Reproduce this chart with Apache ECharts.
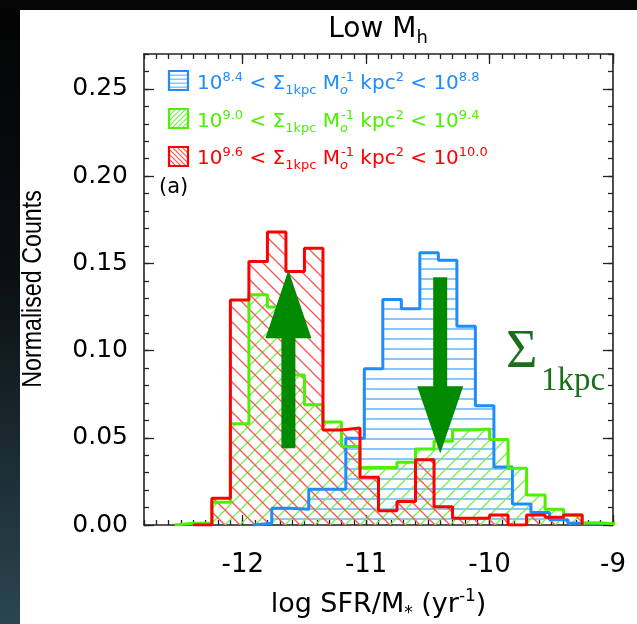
<!DOCTYPE html>
<html><head><meta charset="utf-8">
<script src="https://cdn.jsdelivr.net/npm/echarts@6/dist/echarts.min.js"></script>
<style>html,body{margin:0;padding:0;background:#fff}#c{width:637px;height:624px}</style>
</head><body><div id="c"></div>
<script>
// ---- data ----
const blueEdges = [-11.915,-11.765,-11.615,-11.465,-11.315,-11.165,-11.015,-10.865,-10.715,-10.565,-10.415,-10.265,-10.115,-9.965,-9.815,-9.665,-9.515,-9.365,-9.215,-9.065];
const blueVals  = [0.001,0.0096,0.009,0.0205,0.0205,0.0498,0.0895,0.1293,0.124,0.1561,0.1517,0.114,0.0684,0.0332,0.0121,0.0071,0.003,0.001,0.001];

const greenEdges = [-12.55,-12.40,-12.25,-12.10,-11.95,-11.80,-11.65,-11.50,-11.35,-11.20,-11.05,-10.90,-10.75,-10.60,-10.45,-10.30,-10.15,-10.00,-9.85,-9.70,-9.55,-9.40,-9.25,-9.10,-8.95];
const greenVals  = [0.001,0.001,0.013,0.058,0.132,0.125,0.086,0.069,0.059,0.045,0.033,0.033,0.036,0.0435,0.048,0.0545,0.055,0.049,0.0325,0.0172,0.009,0.0057,0.0012,0.0006];

const redEdges = [-12.40,-12.25,-12.10,-11.95,-11.80,-11.65,-11.50,-11.35,-11.20,-11.05,-10.90,-10.75,-10.60,-10.45,-10.30,-10.15,-10.00,-9.85,-9.70,-9.55,-9.40,-9.25];
const redVals  = [0,0.0153,0.129,0.151,0.168,0.1453,0.1586,0.0545,0.0556,0.0274,0.0082,0.0134,0.0374,0.0105,0.0038,0.0038,0.0057,0,0.0057,0.0044,0.0057];

const xMajor = [-12,-11,-10,-9];
const yMajor = [0,0.05,0.10,0.15,0.20,0.25];
const xRange = [-12.8,-9];
const yRange = [0,0.27];

// annotation arrows (data coords)
const upArrow   = {x:-11.63, tail:0.044, neck:0.107, tip:0.146};
const downArrow = {x:-10.40, tail:0.142, neck:0.0795, tip:0.041};

// ---- helpers ----
const xMinor = []; for (let i = -128; i <= -90; i++) xMinor.push(i/10);
const yMinor = []; for (let i = 0; i <= 27; i++) yMinor.push(i/100);

function stepData(edges, vals){
  const d = [[edges[0],0]];
  for (let i=0;i<vals.length;i++) d.push([edges[i], vals[i]]);
  d.push([edges[vals.length], 0]);
  return d;
}
function hatch(kind, color, s, lw){
  const c = document.createElement('canvas');
  const g = c.getContext('2d');
  if (kind === 'h'){
    c.width = 4; c.height = s;
    g.fillStyle = color; g.fillRect(0, s - lw, 4, lw);
  } else {
    c.width = s; c.height = s;
    g.strokeStyle = color; g.lineWidth = lw; g.beginPath();
    if (kind === '/'){
      for (let k=0;k<3;k++){ g.moveTo(-1, k*s+1); g.lineTo(k*s+1, -1); }
    } else {
      for (let k=-1;k<2;k++){ g.moveTo(-1, k*s-1); g.lineTo(s+1, k*s+s+1); }
    }
    g.stroke();
  }
  return {image: c, repeat: 'repeat'};
}
const F = "'DejaVu Sans', sans-serif";
const BLUE = '#1e8cff', GREEN = '#4cf000', RED = '#ff0000';
const pBlue = hatch('h', '#8cc6ff', 10, 2);
const pGreen = hatch('/', '#74f048', 15, 1.3);
const pRed = hatch('\\', '#ff5050', 15, 1.3);
const lBlue = hatch('h', '#8cc6ff', 4, 1.5);
const lGreen = hatch('/', '#74f048', 5, 1.2);
const lRed = hatch('\\', '#ff5050', 5, 1.2);

function legendText(lo, hi){
  return '{m|10}{sup|'+lo+'}{m| < Σ}{sub|1kpc}{m| M}{subo|o}{sup|-1}{m| kpc}{sup|2}{m| < 10}{sup|'+hi+'}';
}
function legendRich(color){
  return {
    m:{fontSize:20,fontFamily:F,color:color,lineHeight:26,fontWeight:'normal'},
    sup:{fontSize:13,fontFamily:F,color:color,lineHeight:13,verticalAlign:'top',fontWeight:'normal'},
    sub:{fontSize:13,fontFamily:F,color:color,lineHeight:13,verticalAlign:'bottom',fontWeight:'normal'},
    subo:{fontSize:13,fontFamily:F,color:color,lineHeight:13,verticalAlign:'bottom',fontStyle:'italic',width:1,fontWeight:'normal'}
  };
}

const axisCol = '#222';
function xAx(pos, major){
  return {type:'value', min:xRange[0], max:xRange[1], position:pos, gridIndex:0,
    axisLine:{show:major, onZero:false, lineStyle:{color:axisCol, width:1.6}},
    axisTick:{show:true, inside:true, length: major?10:5, customValues: major?xMajor:xMinor, lineStyle:{color:axisCol,width:1.3}},
    axisLabel:{show: major && pos==='bottom', customValues:xMajor, fontSize:26, fontFamily:F, color:'#000', margin:27,
      formatter: v => String(Math.round(v))},
    splitLine:{show:false}};
}
function yAx(pos, major){
  return {type:'value', min:yRange[0], max:yRange[1], position:pos, gridIndex:0,
    axisLine:{show:major, onZero:false, lineStyle:{color:axisCol, width:1.6}},
    axisTick:{show:true, inside:true, length: major?10:5, customValues: major?yMajor:yMinor, lineStyle:{color:axisCol,width:1.3}},
    axisLabel:{show: major && pos==='left', customValues:yMajor, fontSize:25, fontFamily:F, color:'#000', margin:16,
      formatter: v => v.toFixed(2)},
    splitLine:{show:false}};
}

const xAxes = [xAx('bottom',true), xAx('bottom',false), xAx('top',true), xAx('top',false)];
xAxes[0].name = '{m|log SFR/M}{sub|*}{m| (yr}{sup|-1}{m|)}';
xAxes[0].nameLocation = 'middle';
xAxes[0].nameGap = 63;
xAxes[0].nameTextStyle = {rich:{
  m:{fontSize:27,fontFamily:F,color:'#000',lineHeight:34},
  sub:{fontSize:17,fontFamily:F,color:'#000',lineHeight:17,verticalAlign:'bottom'},
  sup:{fontSize:17,fontFamily:F,color:'#000',lineHeight:17,verticalAlign:'top'}}};
const yAxes = [yAx('left',true), yAx('left',false), yAx('right',true), yAx('right',false)];

const chart = echarts.init(document.getElementById('c'), null, {renderer:'canvas'});
const option = {
  animation:false,
  backgroundColor:'#ffffff',
  grid:{left:144, right:24, top:54, bottom:99, containLabel:false, outerBoundsMode:'none'},
  xAxis: xAxes,
  yAxis: yAxes,
  title:[
    {text:'{a|Low M}{b|h}', left:378, top:13, textAlign:'center', padding:0,
     textStyle:{rich:{a:{fontSize:28,fontFamily:F,color:'#000',lineHeight:34,fontWeight:'normal'},
                      b:{fontSize:18,fontFamily:F,color:'#000',lineHeight:18,verticalAlign:'bottom',fontWeight:'normal'}}}},
    {text:legendText('8.4','8.8'), left:197, top:71, padding:0, textStyle:{rich:legendRich(BLUE)}},
    {text:legendText('9.0','9.4'), left:197, top:109, padding:0, textStyle:{rich:legendRich(GREEN)}},
    {text:legendText('9.6','10.0'), left:197, top:146, padding:0, textStyle:{rich:legendRich(RED)}},
    {text:'(a)', left:159, top:177, padding:0, textStyle:{fontSize:21,fontFamily:F,color:'#000',fontWeight:'normal'}},
    {text:'Σ', left:506, top:326, padding:0, textStyle:{fontSize:54,fontFamily:"'Liberation Serif', serif",color:'#1b6e1b',fontWeight:'normal'}},
    {text:'1kpc', left:541, top:365, padding:0, textStyle:{fontSize:33,fontFamily:"'Liberation Serif', serif",color:'#1b6e1b',fontWeight:'normal'}}
  ],
  series:[
    {type:'line', name:'blue', step:'end', data:stepData(blueEdges,blueVals), symbol:'none', silent:true,
     lineStyle:{color:BLUE,width:3}, itemStyle:{color:BLUE}, areaStyle:{color:pBlue, opacity:1}},
    {type:'line', name:'green', step:'end', data:stepData(greenEdges,greenVals), symbol:'none', silent:true,
     lineStyle:{color:GREEN,width:3}, itemStyle:{color:GREEN}, areaStyle:{color:pGreen, opacity:1}},
    {type:'line', name:'red', step:'end', data:stepData(redEdges,redVals), symbol:'none', silent:true,
     lineStyle:{color:RED,width:3}, itemStyle:{color:RED}, areaStyle:{color:pRed, opacity:1}}
  ]
};
chart.setOption(option);

function arrow(a){
  const P = v => chart.convertToPixel({xAxisIndex:0,yAxisIndex:0}, [a.x, v]);
  const t = P(a.tail), n = P(a.neck), p = P(a.tip);
  const sw = 7, hw = 23, cx = t[0];
  return {type:'polygon', z:100, shape:{points:[[cx-sw,t[1]],[cx+sw,t[1]],[cx+sw,n[1]],[cx+hw,n[1]],[cx,p[1]],[cx-hw,n[1]],[cx-sw,n[1]]]},
    style:{fill:'#008a00'}};
}
function legendBox(y, pat, col){
  return {type:'rect', z:100, shape:{x:169, y:y, width:19, height:19}, style:{fill:pat, stroke:col, lineWidth:2.2}};
}
chart.setOption({graphic:[
  {type:'rect', z:200, shape:{x:0,y:0,width:20,height:624}, style:{fill:new echarts.graphic.LinearGradient(0,0,0,1,[{offset:0,color:'#030303'},{offset:0.45,color:'#0b1013'},{offset:1,color:'#2b4650'}])}},
  {type:'rect', z:200, shape:{x:0,y:0,width:637,height:10}, style:{fill:'#050505'}},
  {type:'text', z:100, x:33, y:289, rotation:Math.PI/2, scaleX:0.83,
   style:{text:'Normalised Counts', font:"28px 'Liberation Sans', sans-serif", fill:'#000', align:'center', verticalAlign:'middle'}},
  arrow(upArrow),
  arrow(downArrow),
  legendBox(71, lBlue, BLUE),
  legendBox(109, lGreen, GREEN),
  legendBox(147, lRed, RED)
]});
</script></body></html>
